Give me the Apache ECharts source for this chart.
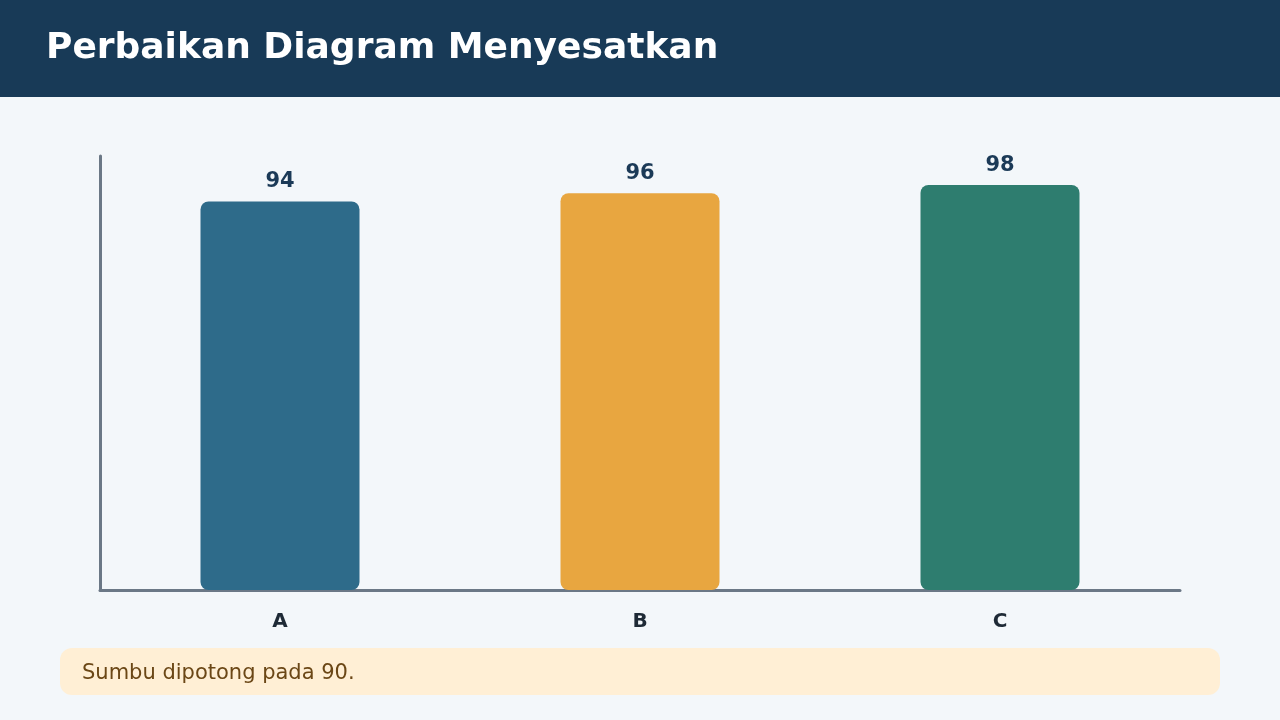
<!DOCTYPE html>
<html>
<head>
<meta charset="utf-8">
<script src="https://cdn.jsdelivr.net/npm/echarts@6/dist/echarts.min.js"></script>
<style>
html,body{margin:0;padding:0;background:#f3f7fa;}
#chart{width:1280px;height:720px;}
</style>
</head>
<body>
<div id="chart"></div>
<script>
const title = "Perbaikan Diagram Menyesatkan";
const note = "Sumbu dipotong pada 90.";
const categories = ["A", "B", "C"];
const values = [94, 96, 98];
const barColors = ["#2e6b8a", "#e8a640", "#2e7d6f"];

const chart = echarts.init(document.getElementById('chart'));
const font = "DejaVu Sans";
chart.setOption({
  backgroundColor: '#f3f7fa',
  animation: false,
  textStyle: { fontFamily: font },
  grid: { left: 100, right: 100, top: 156, bottom: 130 },
  xAxis: {
    type: 'category',
    data: categories,
    axisLine: { show: true, lineStyle: { color: '#6b7886', width: 3 } },
    axisTick: { show: false },
    axisLabel: { margin: 22, color: '#1e2a36', fontSize: 20, fontWeight: 'bold', fontFamily: font }
  },
  yAxis: {
    type: 'value',
    min: 0,
    max: 105,
    axisLine: { show: true, lineStyle: { color: '#6b7886', width: 3 } },
    axisTick: { show: false },
    axisLabel: { show: false },
    splitLine: { show: false }
  },
  series: [{
    type: 'bar',
    barWidth: 159,
    data: values.map((v, i) => ({ value: v, itemStyle: { color: barColors[i] } })),
    itemStyle: { borderRadius: 8 },
    label: {
      show: true, position: 'top', distance: 9,
      color: '#1b3a57', fontSize: 21, fontWeight: 'bold', fontFamily: font
    }
  }],
  graphic: [
    { type: 'rect', left: 0, top: 0, shape: { width: 1280, height: 97 }, style: { fill: '#183a57' } },
    { type: 'text', left: 46, top: 31, style: { text: title, fill: '#ffffff', fontSize: 36, fontWeight: 'bold', fontFamily: font } },
    { type: 'rect', left: 60, top: 648, shape: { width: 1160, height: 47, r: 12 }, style: { fill: '#ffefd5' } },
    { type: 'text', left: 82, top: 663, style: { text: note, fill: '#6b4716', fontSize: 21, fontFamily: font } }
  ]
});
</script>
</body>
</html>
